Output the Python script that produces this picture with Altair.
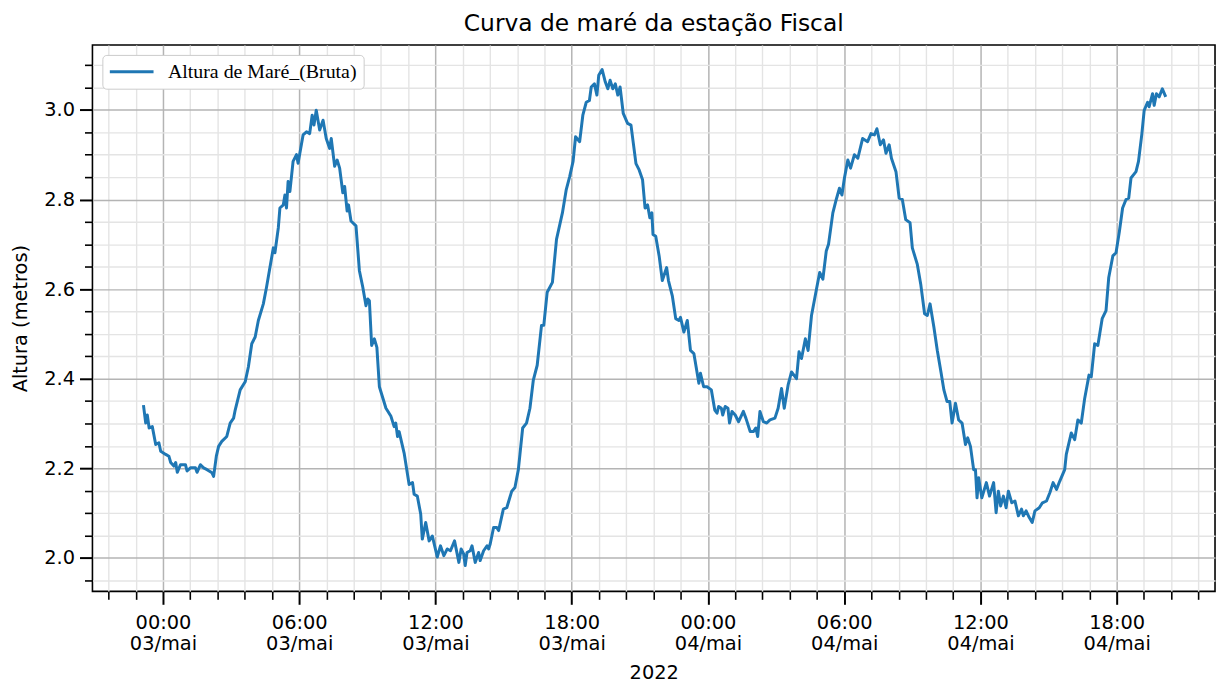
import altair as alt
import pandas as pd

# ---- data (hours after 03/mai 00:00, tide height in metres)
hours = [
    -0.86, -0.76, -0.69, -0.61, -0.47, -0.32, -0.18, -0.10, 0.12, 0.26, 0.34, 0.48, 0.56, 0.63, 0.77, 0.99,
    1.06, 1.21, 1.43, 1.50, 1.65, 1.79, 1.94, 2.16, 2.23, 2.35, 2.45, 2.59, 2.81, 2.96, 3.11, 3.18,
    3.40, 3.62, 3.76, 3.91, 4.06, 4.20, 4.42, 4.56, 4.71, 4.86, 4.93, 5.08, 5.15, 5.30, 5.37, 5.44,
    5.51, 5.59, 5.73, 5.88, 5.95, 6.17, 6.32, 6.46, 6.57, 6.65, 6.75, 6.90, 7.05, 7.19, 7.34, 7.41,
    7.56, 7.67, 7.78, 7.92, 8.00, 8.11, 8.17, 8.28, 8.50, 8.65, 8.80, 8.94, 9.02, 9.09, 9.19, 9.31,
    9.42, 9.53, 9.82, 10.04, 10.18, 10.25, 10.33, 10.40, 10.62, 10.84, 10.99, 11.06, 11.20, 11.35, 11.42, 11.57,
    11.72, 11.86, 12.08, 12.22, 12.37, 12.52, 12.66, 12.84, 13.03, 13.13, 13.24, 13.31, 13.39, 13.53, 13.61, 13.75,
    13.90, 13.97, 14.12, 14.27, 14.34, 14.41, 14.56, 14.70, 14.78, 14.99, 15.14, 15.36, 15.50, 15.65, 15.72, 15.84,
    16.01, 16.16, 16.31, 16.48, 16.67, 16.77, 16.92, 17.15, 17.33, 17.59, 17.76, 17.91, 18.06, 18.17, 18.35, 18.49,
    18.64, 18.78, 18.86, 19.00, 19.11, 19.19, 19.34, 19.48, 19.59, 19.69, 19.81, 19.92, 20.03, 20.13, 20.27, 20.46,
    20.61, 20.83, 20.97, 21.12, 21.23, 21.34, 21.44, 21.53, 21.58, 21.70, 21.85, 21.99, 22.18, 22.26, 22.43, 22.58,
    22.72, 22.79, 22.94, 23.09, 23.23, 23.38, 23.60, 23.67, 23.81, 23.96, 24.15, 24.30, 24.40, 24.47, 24.59, 24.65,
    24.76, 24.88, 24.95, 25.06, 25.20, 25.35, 25.56, 25.67, 25.86, 26.00, 26.11, 26.19, 26.29, 26.44, 26.59, 26.73,
    26.95, 27.09, 27.24, 27.36, 27.53, 27.68, 27.90, 28.01, 28.12, 28.29, 28.41, 28.56, 28.78, 28.92, 29.06, 29.21,
    29.31, 29.50, 29.65, 29.79, 29.90, 30.01, 30.16, 30.28, 30.45, 30.60, 30.81, 31.03, 31.18, 31.33, 31.44, 31.59,
    31.73, 31.84, 31.98, 32.08, 32.28, 32.42, 32.56, 32.71, 32.90, 33.00, 33.22, 33.37, 33.54, 33.66, 33.78, 33.95,
    34.10, 34.27, 34.39, 34.53, 34.65, 34.75, 34.90, 35.04, 35.19, 35.34, 35.44, 35.56, 35.70, 35.78, 35.85, 35.92,
    36.06, 36.26, 36.40, 36.58, 36.69, 36.79, 36.89, 37.01, 37.13, 37.23, 37.38, 37.52, 37.67, 37.81, 37.89, 38.01,
    38.15, 38.28, 38.40, 38.59, 38.73, 38.91, 39.06, 39.20, 39.35, 39.49, 39.71, 39.78, 40.00, 40.15, 40.29, 40.44,
    40.59, 40.78, 40.88, 41.03, 41.17, 41.36, 41.53, 41.65, 41.83, 41.97, 42.12, 42.26, 42.41, 42.53, 42.63, 42.85,
    42.96, 43.11, 43.21, 43.36, 43.43, 43.58, 43.65, 43.75, 43.87, 44.01, 44.16,
]
altura = [
    2.341, 2.301, 2.319, 2.290, 2.293, 2.253, 2.257, 2.238, 2.231, 2.227, 2.213, 2.205, 2.213, 2.191, 2.208, 2.208,
    2.194, 2.201, 2.201, 2.191, 2.208, 2.201, 2.197, 2.190, 2.182, 2.227, 2.249, 2.260, 2.271, 2.301, 2.312, 2.330,
    2.375, 2.393, 2.426, 2.478, 2.493, 2.530, 2.567, 2.604, 2.648, 2.692, 2.681, 2.737, 2.781, 2.788, 2.810, 2.781,
    2.840, 2.818, 2.885, 2.900, 2.881, 2.944, 2.951, 2.947, 2.988, 2.966, 2.999, 2.955, 2.977, 2.936, 2.914, 2.936,
    2.874, 2.888, 2.870, 2.815, 2.829, 2.774, 2.788, 2.752, 2.741, 2.641, 2.604, 2.563, 2.578, 2.574, 2.474, 2.489,
    2.470, 2.382, 2.334, 2.316, 2.293, 2.301, 2.271, 2.282, 2.234, 2.164, 2.168, 2.142, 2.138, 2.098, 2.042, 2.079,
    2.038, 2.049, 2.002, 2.027, 2.005, 2.020, 2.016, 2.038, 1.990, 2.020, 2.009, 1.983, 2.012, 2.016, 2.027, 1.990,
    2.012, 1.994, 2.016, 2.027, 2.020, 2.031, 2.068, 2.068, 2.061, 2.109, 2.112, 2.149, 2.157, 2.197, 2.231, 2.290,
    2.301, 2.334, 2.397, 2.430, 2.519, 2.519, 2.593, 2.615, 2.711, 2.770, 2.822, 2.851, 2.885, 2.940, 2.929, 2.988,
    3.017, 3.021, 3.051, 3.058, 3.033, 3.077, 3.090, 3.062, 3.047, 3.066, 3.047, 3.058, 3.033, 3.051, 2.992, 2.970,
    2.966, 2.880, 2.866, 2.844, 2.781, 2.788, 2.759, 2.770, 2.722, 2.718, 2.674, 2.619, 2.648, 2.619, 2.585, 2.534,
    2.530, 2.537, 2.504, 2.530, 2.463, 2.456, 2.390, 2.412, 2.382, 2.382, 2.375, 2.330, 2.323, 2.338, 2.334, 2.319,
    2.338, 2.334, 2.301, 2.327, 2.319, 2.304, 2.327, 2.312, 2.282, 2.282, 2.290, 2.271, 2.327, 2.304, 2.301, 2.308,
    2.312, 2.334, 2.378, 2.334, 2.386, 2.415, 2.400, 2.460, 2.445, 2.489, 2.463, 2.541, 2.600, 2.637, 2.622, 2.685,
    2.700, 2.770, 2.800, 2.825, 2.810, 2.848, 2.888, 2.870, 2.900, 2.892, 2.936, 2.929, 2.947, 2.944, 2.958, 2.922,
    2.933, 2.903, 2.922, 2.892, 2.862, 2.803, 2.800, 2.755, 2.748, 2.692, 2.655, 2.611, 2.545, 2.541, 2.567, 2.515,
    2.463, 2.412, 2.375, 2.349, 2.349, 2.301, 2.345, 2.308, 2.301, 2.253, 2.268, 2.249, 2.197, 2.197, 2.134, 2.179,
    2.134, 2.168, 2.138, 2.168, 2.101, 2.149, 2.116, 2.138, 2.112, 2.149, 2.123, 2.127, 2.094, 2.109, 2.094, 2.105,
    2.090, 2.079, 2.105, 2.112, 2.123, 2.127, 2.146, 2.168, 2.153, 2.171, 2.197, 2.231, 2.279, 2.264, 2.308, 2.301,
    2.356, 2.408, 2.404, 2.478, 2.474, 2.534, 2.552, 2.626, 2.674, 2.681, 2.729, 2.781, 2.800, 2.803, 2.848, 2.862,
    2.885, 2.947, 2.999, 3.017, 3.007, 3.036, 3.010, 3.036, 3.029, 3.047, 3.029,
]
serie_nome = "Altura de Maré_(Bruta)"
titulo = "Curva de maré da estação Fiscal"
y_label = "Altura (metros)"
x_label = "2022"
x_range_hours = [-3.106, 46.33]
y_range = [1.9253, 3.1448]
y_major = [2.0, 2.2, 2.4, 2.6, 2.8, 3.0]
y_minor = [1.95, 2.05, 2.10, 2.15, 2.25, 2.30, 2.35, 2.45, 2.50, 2.55, 2.65, 2.70, 2.75,
           2.85, 2.90, 2.95, 3.05, 3.10]
x_major_minutes = [360 * k for k in range(8)]
x_minor_minutes = [72 * k for k in range(-2, 39) if k % 5 != 0]

base = pd.Timestamp("2022-05-03 00:00:00")
df = pd.DataFrame({
    "tempo": base + pd.to_timedelta(hours, unit="h"),
    "altura": altura,
    "serie": serie_nome,
})


def dt(ts):
    return alt.DateTime(year=ts.year, month=ts.month, date=ts.day,
                        hours=ts.hour, minutes=ts.minute, seconds=ts.second)


x_domain = [dt((base + pd.Timedelta(hours=h)).round("s")) for h in x_range_hours]
x_major = [dt(base + pd.Timedelta(minutes=m)) for m in x_major_minutes]
x_minor = [dt(base + pd.Timedelta(minutes=m)) for m in x_minor_minutes]

xs = alt.Scale(domain=x_domain, nice=False)
ys = alt.Scale(domain=y_range, nice=False, zero=False)

FONT = "DejaVu Sans"

minor = alt.Chart(df).mark_line(strokeOpacity=0).encode(
    x=alt.X("tempo:T", scale=xs, axis=alt.Axis(
        orient="bottom", values=x_minor, labels=False, title=None, domain=False,
        grid=True, gridColor="#e4e4e4", gridWidth=1.4,
        ticks=True, tickSize=8, tickWidth=1.6, tickColor="black")),
    y=alt.Y("altura:Q", scale=ys, axis=alt.Axis(
        orient="left", values=y_minor, labels=False, title=None, domain=False,
        grid=True, gridColor="#e4e4e4", gridWidth=1.4,
        ticks=True, tickSize=8, tickWidth=1.6, tickColor="black")),
)

major = alt.Chart(df).mark_line(strokeWidth=3, strokeJoin="round").encode(
    x=alt.X("tempo:T", scale=xs, axis=alt.Axis(
        orient="bottom", values=x_major, domain=False,
        labelExpr="[timeFormat(datum.value, '%H:%M'), timeFormat(datum.value, '%d') + '/' + "
                  "['jan','fev','mar','abr','mai','jun','jul','ago','set','out','nov','dez'][month(datum.value)]]",
        labelFont=FONT, labelFontSize=19.5, labelColor="black", labelLineHeight=22,
        labelPadding=9, labelOverlap=False, labelFlush=False, labelBound=False,
        grid=True, gridColor="#b4b4b4", gridWidth=1.5,
        ticks=True, tickSize=13, tickWidth=2, tickColor="black",
        title=x_label, titleFont=FONT, titleFontSize=19.5, titleFontWeight="normal",
        titleColor="black", titleX=565, titleY=82, titleBaseline="middle", titleAlign="center")),
    y=alt.Y("altura:Q", scale=ys, axis=alt.Axis(
        orient="left", values=y_major, format=".1f", domain=False,
        labelFont=FONT, labelFontSize=19.5, labelColor="black", labelPadding=5,
        grid=True, gridColor="#b4b4b4", gridWidth=1.5,
        ticks=True, tickSize=13, tickWidth=2, tickColor="black",
        title=y_label, titleFont=FONT, titleFontSize=19.5, titleFontWeight="normal",
        titleColor="black", titleX=-72, titleY=275, titleAngle=270,
        titleBaseline="middle", titleAlign="center")),
    color=alt.Color("serie:N", scale=alt.Scale(domain=[serie_nome], range=["#1f77b4"]),
                    legend=alt.Legend(
                        title=None, orient="none", legendX=10, legendY=10,
                        symbolType="M-4,0H4", symbolSize=121, symbolStrokeWidth=3,
                        symbolOffset=12.5,
                        labelFont="Liberation Serif", labelFontSize=20, labelColor="black",
                        labelOffset=26.5, labelLimit=400,
                        fillColor="white", strokeColor="#cccccc", cornerRadius=4, padding=7)),
)

chart = alt.layer(minor, major).resolve_axis(x="independent", y="independent").properties(
    width=1130,
    height=550,
    autosize=alt.AutoSizeParams(type="none"),
    padding={"left": 85, "top": 35, "right": 3, "bottom": 91},
    title=alt.TitleParams(titulo, font=FONT, fontSize=23.5, fontWeight="normal", color="black",
                          anchor="middle", baseline="alphabetic", offset=13, dy=22),
).configure_view(stroke="black", strokeWidth=1.6)

chart.save("out.html", embed_options={"renderer": "svg", "actions": False})
